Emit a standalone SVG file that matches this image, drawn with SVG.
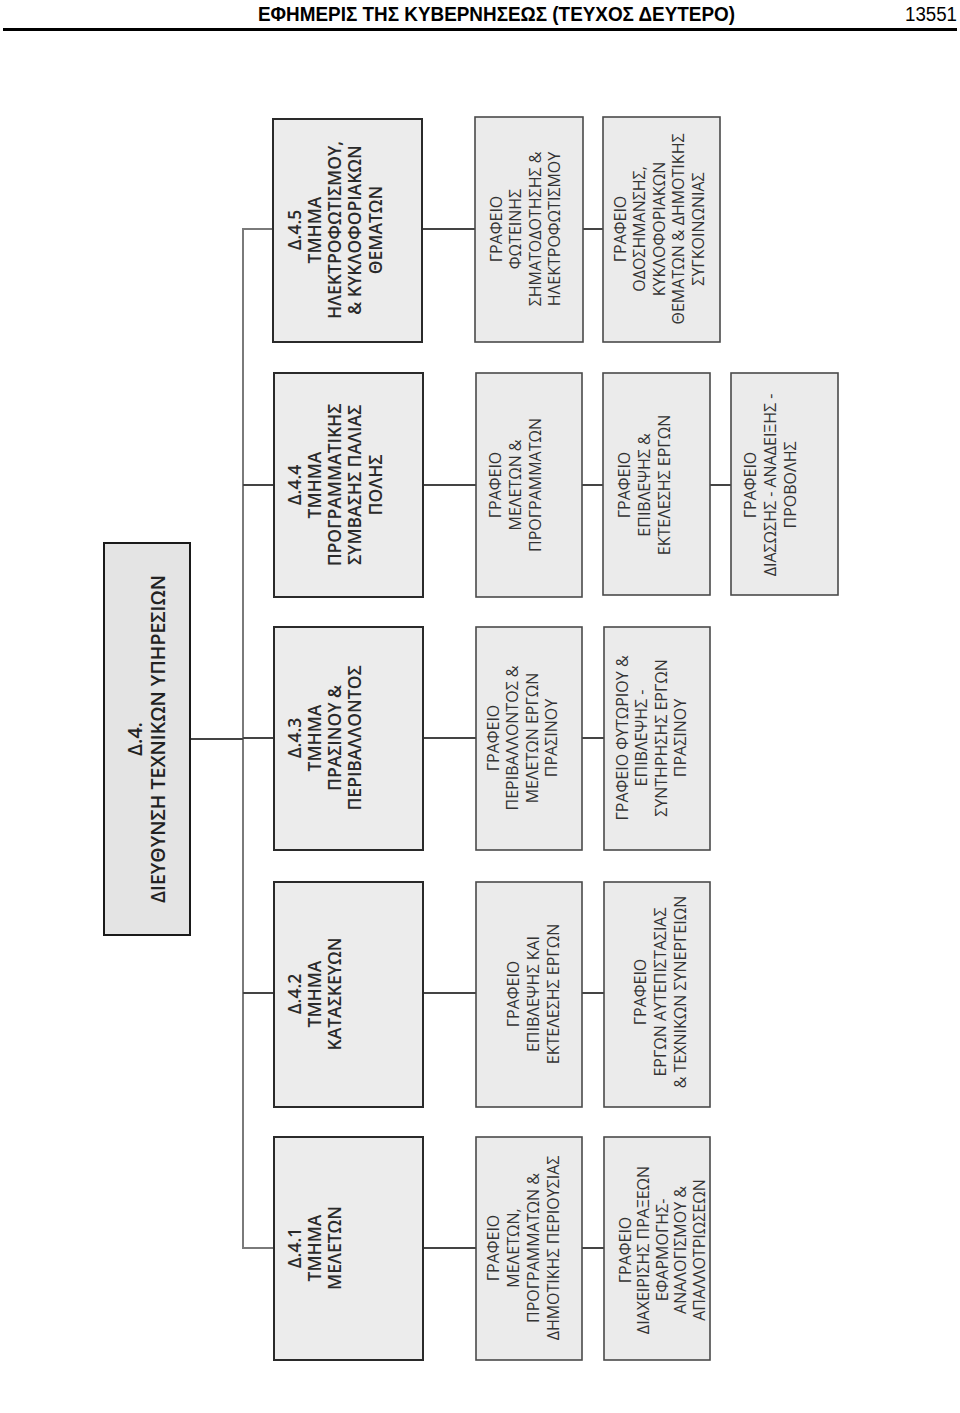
<svg xmlns="http://www.w3.org/2000/svg" width="960" height="1413" viewBox="0 0 960 1413">
<style>
.bg{fill:#ffffff}
.hdr{font-family:"Liberation Sans",Arial,sans-serif;font-weight:bold;font-size:19.5px;fill:#000}
.pg{font-family:"Liberation Sans",Arial,sans-serif;font-size:19.5px;fill:#000}
.main rect{fill:#e4e4e4;stroke:#1a1a1a;stroke-width:2}
.sec rect{fill:#ececec;stroke:#2a2a2a;stroke-width:2}
.off rect{fill:#ebebeb;stroke:#4a4a4a;stroke-width:1.6}
.tm{font-family:"Open Sans","Liberation Sans",sans-serif;font-weight:600;font-size:19.5px;fill:#222;text-anchor:middle}
.ts{font-family:"Open Sans","Liberation Sans",sans-serif;font-weight:600;font-size:17.5px;fill:#2a2a2a;text-anchor:middle}
.to{font-family:"Open Sans","Liberation Sans",sans-serif;font-weight:400;font-size:16px;fill:#333;text-anchor:middle}
.trunk{fill:none;stroke:#7a7a7a;stroke-width:2}
.con{fill:none;stroke:#444;stroke-width:2}
</style>
<rect class="bg" x="0" y="0" width="960" height="1413"/>
<g id="header">
<text class="hdr" x="258" y="21" textLength="477" lengthAdjust="spacingAndGlyphs">ΕΦΗΜΕΡΙΣ ΤΗΣ ΚΥΒΕΡΝΗΣΕΩΣ (ΤΕΥΧΟΣ ΔΕΥΤΕΡΟ)</text>
<text class="pg" x="905" y="21" textLength="52" lengthAdjust="spacingAndGlyphs">13551</text>
<line x1="3" y1="29.5" x2="957" y2="29.5" stroke="#000" stroke-width="3"/>
</g>
<g id="connectors">
<path class="trunk" d="M273,229 H243 V1248 H274"/>
<path class="con" d="M190,739 H243"/>
<path class="con" d="M243,485 H274 M243,738 H274 M243,993 H274"/>
<path class="con" d="M422,229 H475 M583,229 H603"/>
<path class="con" d="M423,485 H476 M582,485 H603 M710,485 H731"/>
<path class="con" d="M423,738 H476 M582,738 H604"/>
<path class="con" d="M423,993 H476 M582,993 H604"/>
<path class="con" d="M423,1248 H476 M582,1248 H604"/>
</g>
<g id="d4" class="main">
<rect x="104" y="543" width="86" height="392"/>
<text class="tm" transform="translate(142,739) rotate(-90)"><tspan x="0" y="0">Δ.4.</tspan><tspan x="0" y="23">ΔΙΕΥΘΥΝΣΗ ΤΕΧΝΙΚΩΝ ΥΠΗΡΕΣΙΩΝ</tspan></text>
</g>
<g id="d45" class="sec">
<rect x="273" y="119" width="149" height="223"/>
<text class="ts" transform="translate(301.3,230) rotate(-90)"><tspan x="0" y="0">Δ.4.5</tspan><tspan x="0" y="20">ΤΜΗΜΑ</tspan><tspan x="0" y="40">ΗΛΕΚΤΡΟΦΩΤΙΣΜΟΥ,</tspan><tspan x="0" y="60">&amp; ΚΥΚΛΟΦΟΡΙΑΚΩΝ</tspan><tspan x="0" y="81">ΘΕΜΑΤΩΝ</tspan></text>
</g>
<g id="d44" class="sec">
<rect x="274" y="373" width="149" height="224"/>
<text class="ts" transform="translate(301.3,485) rotate(-90)"><tspan x="0" y="0">Δ.4.4</tspan><tspan x="0" y="20">ΤΜΗΜΑ</tspan><tspan x="0" y="40">ΠΡΟΓΡΑΜΜΑΤΙΚΗΣ</tspan><tspan x="0" y="60">ΣΥΜΒΑΣΗΣ ΠΑΛΙΑΣ</tspan><tspan x="0" y="81">ΠΟΛΗΣ</tspan></text>
</g>
<g id="d43" class="sec">
<rect x="274" y="627" width="149" height="223"/>
<text class="ts" transform="translate(301.3,738) rotate(-90)"><tspan x="0" y="0">Δ.4.3</tspan><tspan x="0" y="20">ΤΜΗΜΑ</tspan><tspan x="0" y="40">ΠΡΑΣΙΝΟΥ &amp;</tspan><tspan x="0" y="60">ΠΕΡΙΒΑΛΛΟΝΤΟΣ</tspan></text>
</g>
<g id="d42" class="sec">
<rect x="274" y="882" width="149" height="225"/>
<text class="ts" transform="translate(301.3,994) rotate(-90)"><tspan x="0" y="0">Δ.4.2</tspan><tspan x="0" y="20">ΤΜΗΜΑ</tspan><tspan x="0" y="40">ΚΑΤΑΣΚΕΥΩΝ</tspan></text>
</g>
<g id="d41" class="sec">
<rect x="274" y="1137" width="149" height="223"/>
<text class="ts" transform="translate(301.3,1248) rotate(-90)"><tspan x="0" y="0">Δ.4.1</tspan><tspan x="0" y="20">ΤΜΗΜΑ</tspan><tspan x="0" y="40">ΜΕΛΕΤΩΝ</tspan></text>
</g>
<g id="o45a" class="off">
<rect x="475" y="117" width="108" height="225"/>
<text class="to" transform="translate(501.7,229) rotate(-90)"><tspan x="0" y="0">ΓΡΑΦΕΙΟ</tspan><tspan x="0" y="19.5">ΦΩΤΕΙΝΗΣ</tspan><tspan x="0" y="39">ΣΗΜΑΤΟΔΟΤΗΣΗΣ &amp;</tspan><tspan x="0" y="58.5">ΗΛΕΚΤΡΟΦΩΤΙΣΜΟΥ</tspan></text>
</g>
<g id="o45b" class="off">
<rect x="603" y="117" width="117" height="225"/>
<text class="to" transform="translate(625.7,229) rotate(-90)"><tspan x="0" y="0">ΓΡΑΦΕΙΟ</tspan><tspan x="0" y="19.5">ΟΔΟΣΗΜΑΝΣΗΣ,</tspan><tspan x="0" y="39">ΚΥΚΛΟΦΟΡΙΑΚΩΝ</tspan><tspan x="0" y="58.5">ΘΕΜΑΤΩΝ &amp; ΔΗΜΟΤΙΚΗΣ</tspan><tspan x="0" y="78">ΣΥΓΚΟΙΝΩΝΙΑΣ</tspan></text>
</g>
<g id="o44a" class="off">
<rect x="476" y="373" width="106" height="224"/>
<text class="to" transform="translate(500.7,485) rotate(-90)"><tspan x="0" y="0">ΓΡΑΦΕΙΟ</tspan><tspan x="0" y="20">ΜΕΛΕΤΩΝ &amp;</tspan><tspan x="0" y="40">ΠΡΟΓΡΑΜΜΑΤΩΝ</tspan></text>
</g>
<g id="o44b" class="off">
<rect x="603" y="373" width="107" height="222"/>
<text class="to" transform="translate(629.7,485) rotate(-90)"><tspan x="0" y="0">ΓΡΑΦΕΙΟ</tspan><tspan x="0" y="20">ΕΠΙΒΛΕΨΗΣ &amp;</tspan><tspan x="0" y="40">ΕΚΤΕΛΕΣΗΣ ΕΡΓΩΝ</tspan></text>
</g>
<g id="o44c" class="off">
<rect x="731" y="373" width="107" height="222"/>
<text class="to" transform="translate(755.7,485) rotate(-90)"><tspan x="0" y="0">ΓΡΑΦΕΙΟ</tspan><tspan x="0" y="20">ΔΙΑΣΩΣΗΣ - ΑΝΑΔΕΙΞΗΣ -</tspan><tspan x="0" y="40">ΠΡΟΒΟΛΗΣ</tspan></text>
</g>
<g id="o43a" class="off">
<rect x="476" y="627" width="106" height="223"/>
<text class="to" transform="translate(498.7,738) rotate(-90)"><tspan x="0" y="0">ΓΡΑΦΕΙΟ</tspan><tspan x="0" y="19.5">ΠΕΡΙΒΑΛΛΟΝΤΟΣ &amp;</tspan><tspan x="0" y="39">ΜΕΛΕΤΩΝ ΕΡΓΩΝ</tspan><tspan x="0" y="58.5">ΠΡΑΣΙΝΟΥ</tspan></text>
</g>
<g id="o43b" class="off">
<rect x="604" y="627" width="106" height="223"/>
<text class="to" transform="translate(627.7,738) rotate(-90)"><tspan x="0" y="0">ΓΡΑΦΕΙΟ ΦΥΤΩΡΙΟΥ &amp;</tspan><tspan x="0" y="19.5">ΕΠΙΒΛΕΨΗΣ -</tspan><tspan x="0" y="39">ΣΥΝΤΗΡΗΣΗΣ ΕΡΓΩΝ</tspan><tspan x="0" y="58.5">ΠΡΑΣΙΝΟΥ</tspan></text>
</g>
<g id="o42a" class="off">
<rect x="476" y="882" width="106" height="225"/>
<text class="to" transform="translate(518.7,994) rotate(-90)"><tspan x="0" y="0">ΓΡΑΦΕΙΟ</tspan><tspan x="0" y="20">ΕΠΙΒΛΕΨΗΣ ΚΑΙ</tspan><tspan x="0" y="40">ΕΚΤΕΛΕΣΗΣ ΕΡΓΩΝ</tspan></text>
</g>
<g id="o42b" class="off">
<rect x="604" y="882" width="106" height="225"/>
<text class="to" transform="translate(645.7,992) rotate(-90)"><tspan x="0" y="0">ΓΡΑΦΕΙΟ</tspan><tspan x="0" y="20">ΕΡΓΩΝ ΑΥΤΕΠΙΣΤΑΣΙΑΣ</tspan><tspan x="0" y="40">&amp; ΤΕΧΝΙΚΩΝ ΣΥΝΕΡΓΕΙΩΝ</tspan></text>
</g>
<g id="o41a" class="off">
<rect x="476" y="1137" width="106" height="223"/>
<text class="to" transform="translate(498.7,1248) rotate(-90)"><tspan x="0" y="0">ΓΡΑΦΕΙΟ</tspan><tspan x="0" y="20">ΜΕΛΕΤΩΝ,</tspan><tspan x="0" y="40">ΠΡΟΓΡΑΜΜΑΤΩΝ &amp;</tspan><tspan x="0" y="60">ΔΗΜΟΤΙΚΗΣ ΠΕΡΙΟΥΣΙΑΣ</tspan></text>
</g>
<g id="o41b" class="off">
<rect x="604" y="1137" width="106" height="223"/>
<text class="to" transform="translate(630.7,1250) rotate(-90)"><tspan x="0" y="0">ΓΡΑΦΕΙΟ</tspan><tspan x="0" y="18.5">ΔΙΑΧΕΙΡΙΣΗΣ ΠΡΑΞΕΩΝ</tspan><tspan x="0" y="37">ΕΦΑΡΜΟΓΗΣ-</tspan><tspan x="0" y="55.5">ΑΝΑΛΟΓΙΣΜΟΥ &amp;</tspan><tspan x="0" y="74">ΑΠΑΛΛΟΤΡΙΩΣΕΩΝ</tspan></text>
</g>
</svg>
